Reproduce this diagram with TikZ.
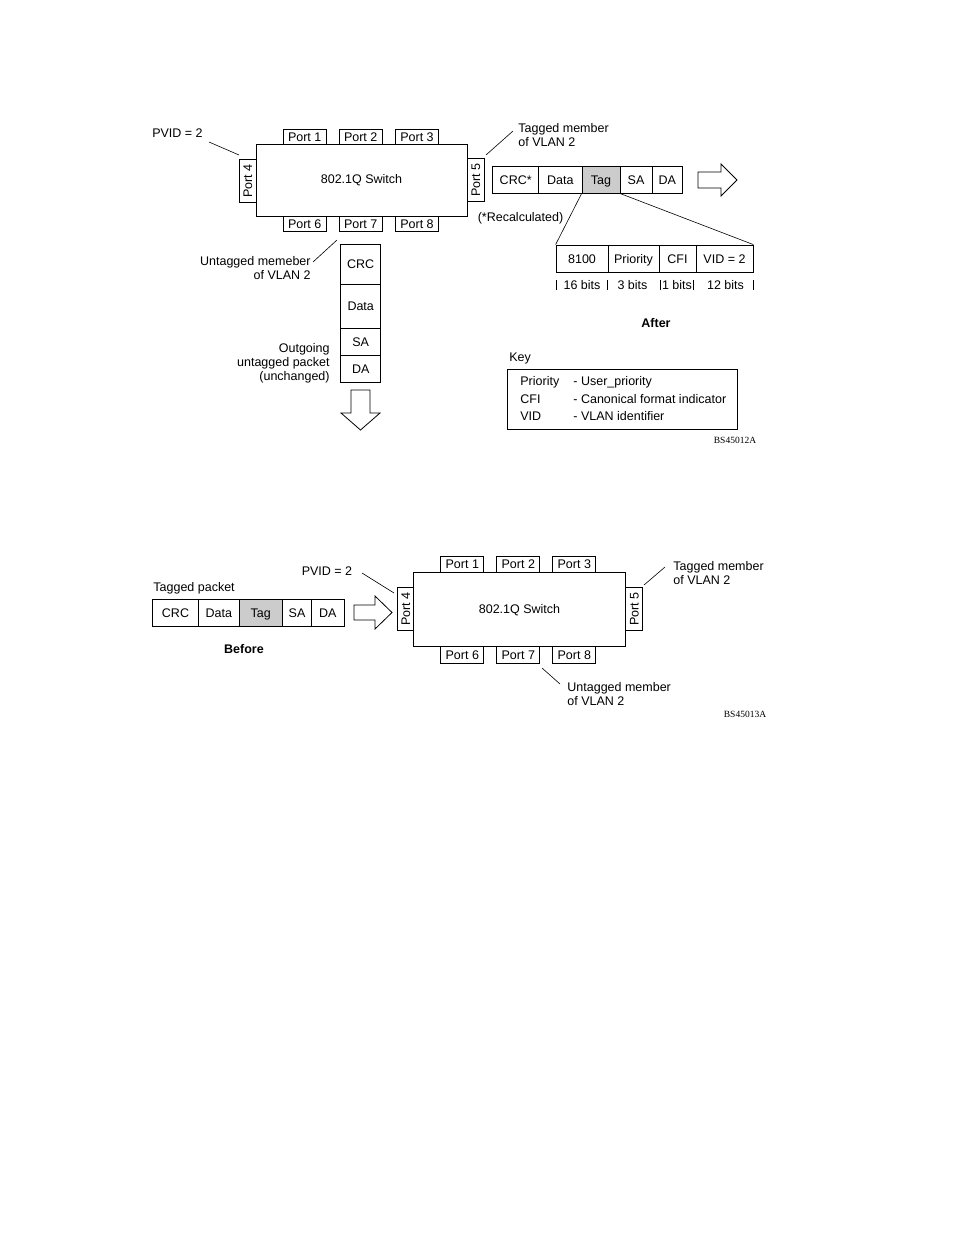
\documentclass[tikz,border=0pt]{standalone}
\usepackage{fontspec}
\setmainfont{Liberation Sans}
\newfontfamily\codefont{Liberation Serif}
\newcommand\fs{\fontsize{12.5}{14}\selectfont}
\begin{document}
\begin{tikzpicture}[x=1pt,y=-1pt, line width=0.8pt,
  every node/.style={font=\fs, inner sep=0pt},
  cell/.style={draw, minimum height=27pt, text height=9pt, text depth=0pt},
  tagcell/.style={cell, fill=black!20},
  ucell/.style={draw, minimum width=40pt, text height=9pt, text depth=0pt},
  port/.style={draw, fill=white, minimum width=43pt, minimum height=15pt, text height=9pt, text depth=0pt},
  vport/.style={draw, fill=white, rotate=90, minimum width=43pt, minimum height=16.5pt, text height=9pt, text depth=0pt},
  switchbox/.style={draw, minimum width=211pt, minimum height=72pt},
  lbl/.style={align=left, anchor=west},
  rlbl/.style={align=right, anchor=east},
  lead/.style={line width=0.6pt},
  fatarrow/.style={draw, line width=0.8pt, line join=miter},
  code/.style={font=\codefont\fontsize{9.5}{10}\selectfont}
]
\useasboundingbox (0,0) rectangle (954,1235);

% ================= TOP (After) =================
\node[switchbox] (sw1) at (361.5,180) {802.1Q Switch};
\node[port] (t1p1) at (304.7,136.5) {Port 1};
\node[port] (t1p2) at (360.7,136.5) {Port 2};
\node[port] (t1p3) at (417,136.5) {Port 3};
\node[port] (t1p6) at (304.7,223.5) {Port 6};
\node[port] (t1p7) at (360.7,223.5) {Port 7};
\node[port] (t1p8) at (417,223.5) {Port 8};
\node[vport] (t1p4) at (247.7,181) {Port 4};
\node[vport] (t1p5) at (475.7,180) {Port 5};

\node (pvid1) at (177.5,133) {PVID = 2};
\coordinate (pvid1a) at (209,142);
\coordinate (pvid1b) at (239,155);
\draw[lead] (pvid1a) -- (pvid1b);

\node[lbl] (tagm1) at (518,135.5) {Tagged member\\of VLAN 2};
\coordinate (tagm1a) at (513,131);
\coordinate (tagm1b) at (486,155);
\draw[lead] (tagm1a) -- (tagm1b);

% outgoing tagged packet
\node[cell, minimum width=46pt]   (ocrc)  at (515.7,179.7) {CRC*};
\node[cell, minimum width=43.3pt] (odata) at (560.35,179.7) {Data};
\node[tagcell, minimum width=38pt] (otag) at (601,179.7) {Tag};
\node[cell, minimum width=32pt]   (osa)   at (636,179.7) {SA};
\node[cell, minimum width=30.7pt] (oda)   at (667.35,179.7) {DA};

\draw[fatarrow] (698,172) -- (721,172) -- (721,164) -- (737,180) -- (721,196) -- (721,188) -- (698,188) -- cycle;

\node (recalc) at (520.5,218) {(*Recalculated)};

% tag detail
\node[cell, minimum width=52pt] (d8100) at (582,258.5) {8100};
\node[cell, minimum width=51pt] (dprio) at (633.5,258.5) {Priority};
\node[cell, minimum width=37pt] (dcfi)  at (677.5,258.5) {CFI};
\node[cell, minimum width=57pt] (dvid)  at (724.5,258.5) {VID = 2};
\draw[lead] (otag.south west) -- (d8100.north west);
\draw[lead] (otag.south east) -- (dvid.north east);

\foreach \tx in {556,607,660,693,753} \draw[lead] (\tx,280) -- (\tx,290);
\node (b16) at (582,285) {16 bits};
\node (b3)  at (632.5,285) {3 bits};
\node (b1)  at (677,285) {1 bits};
\node (b12) at (725.5,285) {12 bits};

\node[font=\fs\bfseries] (after) at (656,323) {After};

\node[lbl] (keyt) at (509,358) {Key};
\node[draw, minimum width=230pt, minimum height=60pt] (key) at (622,399) {};
\node[lbl] (k1) at (520,382) {Priority};
\node[lbl] (k2) at (520,399) {CFI};
\node[lbl] (k3) at (520,416) {VID};
\node[lbl] (k1d) at (573,382) {- User\_priority};
\node[lbl] (k2d) at (573,399) {- Canonical format indicator};
\node[lbl] (k3d) at (573,416) {- VLAN identifier};

\node[code] (fig1) at (735,440) {BS45012A};

% outgoing untagged packet
\node[ucell, minimum height=40pt]   (ucrc)  at (360.7,264) {CRC};
\node[ucell, minimum height=44.3pt] (udata) at (360.7,306.2) {Data};
\node[ucell, minimum height=26.7pt] (usa)   at (360.7,341.7) {SA};
\node[ucell, minimum height=27.7pt] (uda)   at (360.7,368.8) {DA};

\node[rlbl] (untm1) at (311,268) {Untagged memeber\\of VLAN 2};
\coordinate (untm1a) at (313,262);
\coordinate (untm1b) at (337,240);
\draw[lead] (untm1a) -- (untm1b);

\node[rlbl] (outg) at (330,363) {Outgoing\\untagged packet\\(unchanged)};

\draw[fatarrow] (351,390) -- (370,390) -- (370,413) -- (380,413) -- (360.5,430) -- (341,413) -- (351,413) -- cycle;

% ================= BOTTOM (Before) =================
\node[lbl] (tpk) at (153,588) {Tagged packet};
\node[cell, minimum width=45.6pt] (icrc)  at (175.5,612.5) {CRC};
\node[cell, minimum width=41pt]   (idata) at (218.8,612.5) {Data};
\node[tagcell, minimum width=43pt] (itag) at (260.8,612.5) {Tag};
\node[cell, minimum width=29.4pt] (isa)   at (297,612.5) {SA};
\node[cell, minimum width=32.3pt] (ida)   at (327.85,612.5) {DA};

\node[font=\fs\bfseries] (before) at (244,649) {Before};

\draw[fatarrow] (354,605) -- (375,605) -- (375,596) -- (392,612.5) -- (375,629) -- (375,620) -- (354,620) -- cycle;

\node[switchbox, minimum width=212.4pt, minimum height=74pt] (sw2) at (519.5,609.7) {802.1Q Switch};
\node[port, minimum height=16.7pt] (b1p1) at (462.3,564.3) {Port 1};
\node[port, minimum height=16.7pt] (b1p2) at (518.3,564.3) {Port 2};
\node[port, minimum height=16.7pt] (b1p3) at (574.3,564.3) {Port 3};
\node[port, minimum height=16.7pt] (b1p6) at (462.3,655) {Port 6};
\node[port, minimum height=16.7pt] (b1p7) at (518.3,655) {Port 7};
\node[port, minimum height=16.7pt] (b1p8) at (574.3,655) {Port 8};
\node[vport, minimum height=15.6pt] (b1p4) at (405.5,609.3) {Port 4};
\node[vport, minimum height=16.6pt] (b1p5) at (634,609.3) {Port 5};

\node (pvid2) at (327,571) {PVID = 2};
\coordinate (pvid2a) at (362,573);
\coordinate (pvid2b) at (394,593);
\draw[lead] (pvid2a) -- (pvid2b);

\node[lbl] (tagm2) at (673,573) {Tagged member\\of VLAN 2};
\coordinate (tagm2a) at (665,567);
\coordinate (tagm2b) at (644,585);
\draw[lead] (tagm2a) -- (tagm2b);

\node[lbl] (untm2) at (567,694) {Untagged member\\of VLAN 2};
\coordinate (untm2a) at (542,668);
\coordinate (untm2b) at (560,684);
\draw[lead] (untm2a) -- (untm2b);

\node[code] (fig2) at (745,714) {BS45013A};
\end{tikzpicture}
\end{document}
